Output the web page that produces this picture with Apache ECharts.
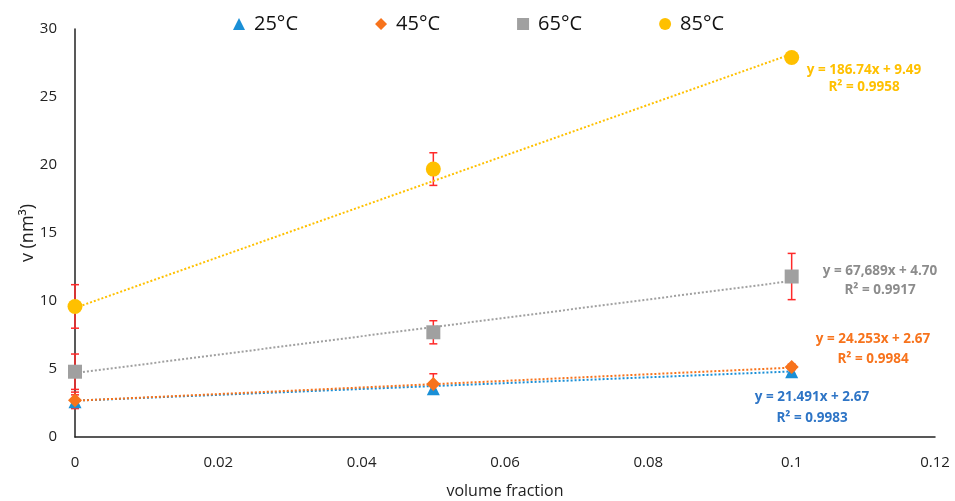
<!DOCTYPE html>
<html>
<head>
<meta charset="utf-8">
<script src="https://cdn.jsdelivr.net/npm/echarts@6/dist/echarts.min.js"></script>
<style>
  html, body { margin: 0; padding: 0; background: #fff; }
  #chart { width: 955px; height: 501px; }
</style>
</head>
<body>
<div id="chart"></div>
<script>
// volume fraction values
const fractions = [0, 0.05, 0.1];

// v (nm3) per temperature
const v25 = [2.6, 3.55, 4.8];
const v45 = [2.7, 3.9, 5.15];
const v65 = [4.8, 7.7, 11.8];
const v85 = [9.6, 19.7, 27.9];

// error bar half widths
const err25 = [0.5, 0.35, 0.2];
const err45 = [0.6, 0.75, 0.2];
const err65 = [1.3, 0.85, 1.7];
const err85 = [1.6, 1.2, 0.3];

// trendline end points (x = 0 and x = 0.1)
const trendX = [0, 0.1];
const trend25 = [2.67, 4.82];
const trend45 = [2.67, 5.10];
const trend65 = [4.70, 11.47];
const trend85 = [9.49, 28.16];

const colors = {
  c25: '#1a8fd6',
  c45: '#f7731c',
  c65: '#a0a0a0',
  c85: '#ffc000'
};

const chart = echarts.init(document.getElementById('chart'));

function pairs(xs, ys) {
  return xs.map((x, i) => [x, ys[i]]);
}

function errData(vals, errs) {
  return fractions.map((x, i) => [x, vals[i] - errs[i], vals[i] + errs[i]]);
}

function errorSeries(vals, errs) {
  return {
    type: 'custom',
    silent: true,
    z: 1,
    data: errData(vals, errs),
    renderItem: function (params, api) {
      const top = api.coord([api.value(0), api.value(2)]);
      const bot = api.coord([api.value(0), api.value(1)]);
      const hw = 4;
      const st = { stroke: '#ff2a2a', lineWidth: 1.5 };
      return {
        type: 'group',
        children: [
          { type: 'line', shape: { x1: top[0], y1: top[1], x2: bot[0], y2: bot[1] }, style: st },
          { type: 'line', shape: { x1: top[0] - hw, y1: top[1], x2: top[0] + hw, y2: top[1] }, style: st },
          { type: 'line', shape: { x1: bot[0] - hw, y1: bot[1], x2: bot[0] + hw, y2: bot[1] }, style: st }
        ]
      };
    }
  };
}

function trendSeries(ys, color) {
  return {
    type: 'line',
    data: pairs(trendX, ys),
    symbol: 'none',
    silent: true,
    z: 2,
    lineStyle: { color: color, width: 2, type: [2, 2] }
  };
}

function pointSeries(name, ys, color, symbol, size) {
  return {
    name: name,
    type: 'scatter',
    data: pairs(fractions, ys),
    symbol: symbol,
    symbolSize: size,
    z: 3,
    itemStyle: { color: color, opacity: 1 }
  };
}

const labelFont = { fontFamily: 'Open Sans', fontSize: 13.5, fontWeight: 'bold' };

function fitLabel(x, y, lh, lines, color) {
  return {
    type: 'text',
    x: x,
    y: y,
    style: Object.assign({
      text: lines.join('\n'),
      fill: color,
      align: 'center',
      lineHeight: lh
    }, labelFont)
  };
}

const option = {
  animation: false,
  backgroundColor: '#fff',
  grid: { left: 75, right: 20, top: 29, bottom: 64, outerBoundsMode: 'none' },
  legend: {
    data: ['25°C', '45°C', '65°C', '85°C'],
    left: 228,
    top: 9,
    itemGap: 77,
    itemWidth: 12,
    itemHeight: 12,
    textStyle: { fontFamily: 'Open Sans', fontSize: 20, color: '#111', padding: [0, 0, 0, 4] }
  },
  xAxis: {
    type: 'value',
    min: 0,
    max: 0.12,
    interval: 0.02,
    name: 'volume fraction',
    nameLocation: 'middle',
    nameGap: 46,
    nameMoveOverlap: false,
    nameTextStyle: { fontFamily: 'Open Sans', fontSize: 16, color: '#222' },
    axisLine: { lineStyle: { color: '#222', width: 1.5 } },
    axisTick: { show: false },
    splitLine: { show: false },
    axisLabel: { fontFamily: 'Open Sans', fontSize: 15, color: '#222', margin: 18 }
  },
  yAxis: {
    type: 'value',
    min: 0,
    max: 30,
    interval: 5,
    name: 'v (nm³)',
    nameLocation: 'middle',
    nameGap: 38,
    nameMoveOverlap: false,
    nameTextStyle: { fontFamily: 'Open Sans', fontSize: 18, color: '#222' },
    axisLine: { show: true, lineStyle: { color: '#222', width: 1.5 } },
    axisTick: { show: false },
    splitLine: { show: false },
    axisLabel: { fontFamily: 'Open Sans', fontSize: 15, color: '#222', margin: 18 }
  },
  graphic: [
    fitLabel(864, 62, 17, ['y = 186.74x + 9.49', 'R² = 0.9958'], colors.c85),
    fitLabel(880, 262, 19, ['y = 67,689x + 4.70', 'R² = 0.9917'], '#8c8c8c'),
    fitLabel(873, 329, 20, ['y = 24.253x + 2.67', 'R² = 0.9984'], colors.c45),
    fitLabel(812, 387, 21, ['y = 21.491x + 2.67', 'R² = 0.9983'], '#2e75c6')
  ],
  series: [
    errorSeries(v25, err25),
    errorSeries(v45, err45),
    errorSeries(v65, err65),
    errorSeries(v85, err85),
    trendSeries(trend25, colors.c25),
    trendSeries(trend45, colors.c45),
    trendSeries(trend65, colors.c65),
    trendSeries(trend85, colors.c85),
    pointSeries('25°C', v25, colors.c25, 'triangle', 13),
    pointSeries('45°C', v45, colors.c45, 'diamond', 14),
    pointSeries('65°C', v65, colors.c65, 'rect', 14),
    pointSeries('85°C', v85, colors.c85, 'circle', 15)
  ]
};

chart.setOption(option);
</script>
</body>
</html>
